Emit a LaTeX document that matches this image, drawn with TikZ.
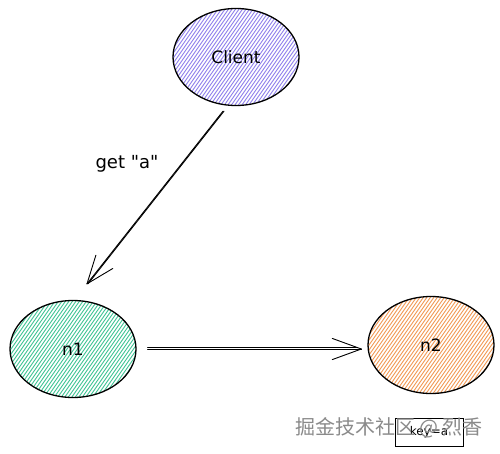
\documentclass[tikz,border=0pt]{standalone}
\usepackage{fontspec}
\setmainfont{DejaVu Sans}
\newfontfamily\cjk{Noto Sans CJK SC}
\usetikzlibrary{calc,shapes.geometric}
\definecolor{cpurple}{HTML}{8F80EC}
\definecolor{cgreen}{HTML}{3FC495}
\definecolor{corange}{HTML}{F29A55}
\definecolor{wmgray}{HTML}{8A8A8A}
\tikzset{
  hatchnode/.style={ellipse, draw=black, line width=1.3pt, minimum width=126pt, minimum height=97pt,
    font=\fontsize{17}{19}\selectfont, inner sep=0pt,
    path picture={
      \foreach \i in {-160,-156.5,...,160}{
        \draw[#1, line width=0.9pt] ([xshift=\i pt]path picture bounding box.center) ++(-70pt,-100pt) -- ++(140pt,200pt);
      }
    }},
  conn/.style={draw=black, line width=0.9pt, line cap=round},
}
\begin{document}
\begin{tikzpicture}[x=1pt,y=-1pt]
\useasboundingbox (0,0) rectangle (500,454);
\fill[white] (0,0) rectangle (500,454);
\node[hatchnode=cpurple] (Client) at (236,57) {Client};
\node[hatchnode=cgreen] (n1) at (73,349) {n1};
\node[hatchnode=corange] (n2) at (431,345) {n2};
% Client -> n1
\coordinate (s1) at ([xshift=-13pt,yshift=-5pt]Client.south);
\coordinate (t1) at ([xshift=14pt,yshift=16pt]n1.north);
\draw[conn] (s1) -- (t1);
\draw[conn] ([xshift=1pt]s1) -- ([xshift=1pt]t1);
\draw[conn] (t1) -- ($(t1)!30pt!21:(s1)$);
\draw[conn] (t1) -- ($(t1)!30pt!-21:(s1)$);
\node[font=\fontsize{18}{20}\selectfont] (lbl) at (127,164) {get \textquotedbl a\textquotedbl};
% n1 -> n2
\coordinate (s2) at ([xshift=11pt]n1.east);
\coordinate (t2) at ($(n2.west |- s2)+(-6,0)$);
\draw[conn] (s2) -- (t2);
\draw[conn] ([yshift=2pt]s2) -- ([xshift=-4pt,yshift=2pt]t2);
\draw[conn] (t2) -- ($(t2)!31pt!20:(s2)$);
\draw[conn] (t2) -- ($(t2)!31pt!-20:(s2)$);
\node[draw=black, line width=0.6pt, minimum width=68pt, minimum height=28pt, font=\fontsize{12}{14}\selectfont] (key) at (429,432) {key=a};
\node[text=wmgray, font=\cjk\fontsize{20}{22}\selectfont] (wm) at (389,428) {掘金技术社区 @ 烈香};
\end{tikzpicture}
\end{document}
